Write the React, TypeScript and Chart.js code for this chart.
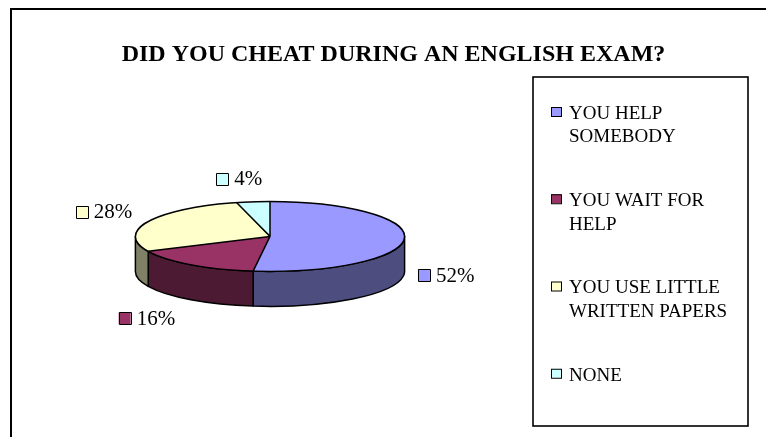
import React, { useEffect, useRef } from "react";
import { Chart, registerables, layouts } from "chart.js";

Chart.register(...registerables);

// ---- data ----
const TITLE = "DID YOU CHEAT DURING AN ENGLISH EXAM?";
const CATEGORIES = [
  "YOU HELP SOMEBODY",
  "YOU WAIT FOR HELP",
  "YOU USE LITTLE WRITTEN PAPERS",
  "NONE",
];
const VALUES = [52, 16, 28, 4];
const TOP_COLORS = ["#9999FF", "#993366", "#FFFFCC", "#CCFFFF"];
const SIDE_COLORS = ["#4D4D80", "#4D1A33", "#808066", "#668080"];

// ---- style ----
const FONT = '"Liberation Serif", "Times New Roman", Times, serif';
const TILT = 0.26; // vertical squash of the pie top
const DEPTH = 0.26; // thickness relative to radius
const LEGEND_BOX_W = 247;

function wrapText(ctx: CanvasRenderingContext2D, text: string, maxW: number) {
  const words = text.split(" ");
  const lines: string[] = [];
  let cur = "";
  for (const w of words) {
    const t = cur ? cur + " " + w : w;
    if (cur && ctx.measureText(t).width > maxW) {
      lines.push(cur);
      cur = w;
    } else cur = t;
  }
  if (cur) lines.push(cur);
  return lines;
}

function drawLegend(chart: any, box: any) {
  const ctx: CanvasRenderingContext2D = chart.ctx;
  const L = box.left + 14;
  const R = box.right - 18;
  const T = 77;
  const B = 426;
  ctx.save();
  ctx.lineWidth = 1.6;
  ctx.strokeStyle = "#000";
  ctx.strokeRect(L, T, R - L, B - T);
  ctx.font = `19px ${FONT}`;
  ctx.textBaseline = "middle";
  ctx.textAlign = "left";
  const labels: string[] = chart.data.labels;
  const colors: string[] = chart.data.datasets[0].backgroundColor;
  const pitch = (B - T) / labels.length;
  const textX = L + 36;
  labels.forEach((lab, i) => {
    const y0 = T + 35 + i * pitch;
    ctx.fillStyle = colors[i];
    ctx.fillRect(L + 18, y0 - 5, 10, 9);
    ctx.lineWidth = 1;
    ctx.strokeStyle = "#000";
    ctx.strokeRect(L + 18.5, y0 - 4.5, 10, 9);
    ctx.fillStyle = "#000";
    const lines = wrapText(ctx, lab, R - textX - 4);
    lines.forEach((ln, j) => ctx.fillText(ln, textX, y0 + 2 + j * 23.5));
  });
  ctx.restore();
}

const pie3dPlugin = {
  id: "pie3d",
  beforeInit(chart: any) {
    const box: any = {
      position: "right",
      weight: 0,
      fullSize: false,
      options: {},
      left: 0,
      top: 0,
      right: 0,
      bottom: 0,
      width: 0,
      height: 0,
      isHorizontal() {
        return false;
      },
      update(_maxW: number, maxH: number) {
        this.width = LEGEND_BOX_W;
        this.height = maxH;
      },
      draw() {
        drawLegend(chart, this);
      },
    };
    layouts.addBox(chart, box);
  },
  beforeDraw(chart: any) {
    const ctx: CanvasRenderingContext2D = chart.ctx;
    ctx.save();
    ctx.fillStyle = "#fff";
    ctx.fillRect(0, 0, chart.width, chart.height);
    ctx.fillStyle = "#000";
    ctx.fillRect(10, 8, chart.width - 10, 2);
    ctx.fillRect(10, 8, 2, chart.height - 8);
    ctx.restore();
  },
  beforeDatasetsDraw(chart: any) {
    const ctx: CanvasRenderingContext2D = chart.ctx;
    const arcs = chart.getDatasetMeta(0).data;
    if (!arcs.length) return;
    const { x: cx, y: cy, outerRadius: Rr } = arcs[0];
    const rx = Rr;
    const ry = Rr * TILT;
    const d = Rr * DEPTH;
    const sides: string[] = (chart.config.options.plugins.pie3d || {}).sideColors || [];
    ctx.save();
    ctx.lineWidth = 1.5;
    ctx.strokeStyle = "#000";
    ctx.lineJoin = "round";
    arcs.forEach((arc: any, i: number) => {
      const s = Math.max(arc.startAngle, 0);
      const e = Math.min(arc.endAngle, Math.PI);
      if (e <= s) return;
      ctx.beginPath();
      ctx.ellipse(cx, cy, rx, ry, 0, s, e, false);
      ctx.lineTo(cx + rx * Math.cos(e), cy + ry * Math.sin(e) + d);
      ctx.ellipse(cx, cy + d, rx, ry, 0, e, s, true);
      ctx.closePath();
      ctx.fillStyle = sides[i];
      ctx.fill();
      ctx.stroke();
    });
    ctx.restore();
    // squash the library's own arcs into the tilted top face
    ctx.save();
    ctx.translate(0, cy);
    ctx.scale(1, TILT);
    ctx.translate(0, -cy);
  },
  afterDatasetsDraw(chart: any) {
    const ctx: CanvasRenderingContext2D = chart.ctx;
    const arcs = chart.getDatasetMeta(0).data;
    ctx.restore();
    if (!arcs.length) return;
    const { x: cx, y: cy, outerRadius: Rr } = arcs[0];
    const rx = Rr;
    const ry = Rr * TILT;
    const d = Rr * DEPTH;
    ctx.save();
    ctx.lineWidth = 1.5;
    ctx.strokeStyle = "#000";
    ctx.lineJoin = "round";
    ctx.beginPath();
    ctx.ellipse(cx, cy, rx, ry, 0, 0, Math.PI * 2);
    ctx.stroke();
    ctx.beginPath();
    arcs.forEach((arc: any) => {
      ctx.moveTo(cx, cy);
      ctx.lineTo(cx + rx * Math.cos(arc.startAngle), cy + ry * Math.sin(arc.startAngle));
    });
    ctx.stroke();

    // percentage labels
    const data: number[] = chart.data.datasets[0].data;
    const colors: string[] = chart.data.datasets[0].backgroundColor;
    const total = data.reduce((a, b) => a + b, 0);
    ctx.font = `21px ${FONT}`;
    ctx.textBaseline = "middle";
    ctx.textAlign = "left";
    const g = 13;
    const bs = 12;
    const gap = 6;
    const h = 20;
    arcs.forEach((arc: any, i: number) => {
      const m = (arc.startAngle + arc.endAngle) / 2;
      const c = Math.cos(m);
      const s = Math.sin(m);
      const txt = `${Math.round((data[i] / total) * 100)}%`;
      const w = bs + gap + ctx.measureText(txt).width;
      const side = Math.sign(c) * Math.min(1, Math.abs(c) * 3);
      const px = cx + (rx + g) * c + side * 10 * Math.abs(s);
      const py = cy + (ry + g) * s + (s > 0 ? d : 0);
      const lcx = px + (w / 2) * side;
      const lcy = py + (h / 2) * s;
      const left = lcx - w / 2;
      ctx.fillStyle = colors[i];
      ctx.fillRect(left, lcy - bs / 2, bs, bs);
      ctx.lineWidth = 1;
      ctx.strokeStyle = "#000";
      ctx.strokeRect(Math.round(left) + 0.5, Math.round(lcy - bs / 2) + 0.5, bs, bs);
      ctx.fillStyle = "#000";
      ctx.fillText(txt, left + bs + gap, lcy + 1);
    });
    ctx.restore();
  },
};

export default function App() {
  const ref = useRef<HTMLCanvasElement>(null);
  useEffect(() => {
    document.body.style.margin = "0";
    const canvas = ref.current!;
    const chart = new Chart(canvas, {
      type: "pie",
      data: {
        labels: CATEGORIES,
        datasets: [
          {
            data: VALUES,
            backgroundColor: TOP_COLORS,
            borderWidth: 0,
            hoverOffset: 0,
            clip: false as any,
          },
        ],
      },
      options: {
        responsive: false,
        animation: false,
        events: [],
        devicePixelRatio: 1,
        layout: { padding: { left: 21, right: 0, top: 0, bottom: 66 } },
        plugins: {
          legend: { display: false },
          tooltip: { enabled: false },
          title: {
            display: true,
            text: TITLE,
            color: "#000",
            font: { family: FONT, size: 24, weight: "bold" },
            padding: { top: 40, bottom: 33 },
          },
          pie3d: { sideColors: SIDE_COLORS },
        } as any,
      },
      plugins: [pie3dPlugin as any],
    });
    return () => chart.destroy();
  }, []);
  return (
    <div style={{ width: 766, height: 437 }}>
      <canvas ref={ref} width={766} height={437} style={{ display: "block", width: 766, height: 437 }} />
    </div>
  );
}
